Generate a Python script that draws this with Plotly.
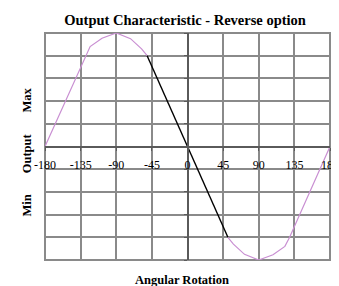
import plotly.graph_objects as go

# Data
pink_left_x = [-180, -129, -123, -108, -90, -72, -58, -51]
pink_left_y = [0, 4.0, 4.4, 4.77, 5.0, 4.75, 4.3, 4.0]
black_x = [-51, 0, 51]
black_y = [4.0, 0, -4.0]
pink_right_x = [51, 58, 72, 90, 108, 123, 129, 180]
pink_right_y = [-4.0, -4.3, -4.75, -5.0, -4.77, -4.4, -4.0, 0]

x_ticks = [-180, -135, -90, -45, 0, 45, 90, 135, 180]
x_tick_labels = ["-180", "-135", "-90", "-45", "0", "45", "90", "135", "180"]
y_labels = ["Max", "Output", "Min"]
y_label_pos = [2.07, -0.3, -2.6]

PINK = "#c98fd2"
GRID = "#8a8a8a"
SERIF = "Liberation Serif, Times New Roman, serif"

fig = go.Figure()
fig.add_trace(go.Scatter(x=pink_left_x, y=pink_left_y, mode="lines",
                         line=dict(color=PINK, width=1.2), showlegend=False))
fig.add_trace(go.Scatter(x=black_x, y=black_y, mode="lines",
                         line=dict(color="black", width=1.4), showlegend=False))
fig.add_trace(go.Scatter(x=pink_right_x, y=pink_right_y, mode="lines",
                         line=dict(color=PINK, width=1.2), showlegend=False))

# page body has an 8px default margin, so the figure is sized/offset for it
fig.update_layout(
    width=331, height=278,
    margin=dict(l=37, r=9, t=25, b=26, autoexpand=False),
    paper_bgcolor="white", plot_bgcolor="white",
    title=dict(text="<b>Output Characteristic - Reverse option</b>",
               x=0.535, xanchor="center", y=0.957, yanchor="middle",
               font=dict(family=SERIF, size=14.5, color="black")),
    xaxis=dict(range=[-180, 180], tickvals=x_ticks, ticktext=x_tick_labels,
               showgrid=True, gridcolor=GRID, gridwidth=2,
               zeroline=False, showline=True, linecolor="#5a5a5a", linewidth=2,
               anchor="free", position=0.5, automargin=False,
               ticks="outside", ticklen=3, tickcolor="#5a5a5a", tickwidth=1,
               tickfont=dict(family=SERIF, size=12, color="black"),
               ticklabelstandoff=4),
    yaxis=dict(range=[-5, 5], dtick=1, showgrid=True, gridcolor=GRID, gridwidth=2,
               zeroline=False, showticklabels=False, automargin=False,
               showline=True, linecolor="#5a5a5a", linewidth=2,
               anchor="free", position=0.5,
               ticks="outside", ticklen=3, tickcolor="#5a5a5a"),
    shapes=[dict(type="rect", xref="paper", yref="paper", x0=0, x1=1, y0=0, y1=1,
                 line=dict(color=GRID, width=2), layer="below")],
)

for t, yp in zip(y_labels, y_label_pos):
    fig.add_annotation(text="<b>" + t + "</b>", x=-0.095, xref="paper",
                       y=yp, yref="y", textangle=-90, showarrow=False,
                       font=dict(family=SERIF, size=12.5, color="black"))

fig.add_annotation(text="<b>Angular Rotation</b>", x=0.48, xref="paper",
                   y=-0.088, yref="paper", yanchor="middle", showarrow=False,
                   font=dict(family=SERIF, size=12.5, color="black"))

fig.write_html("out.html")
